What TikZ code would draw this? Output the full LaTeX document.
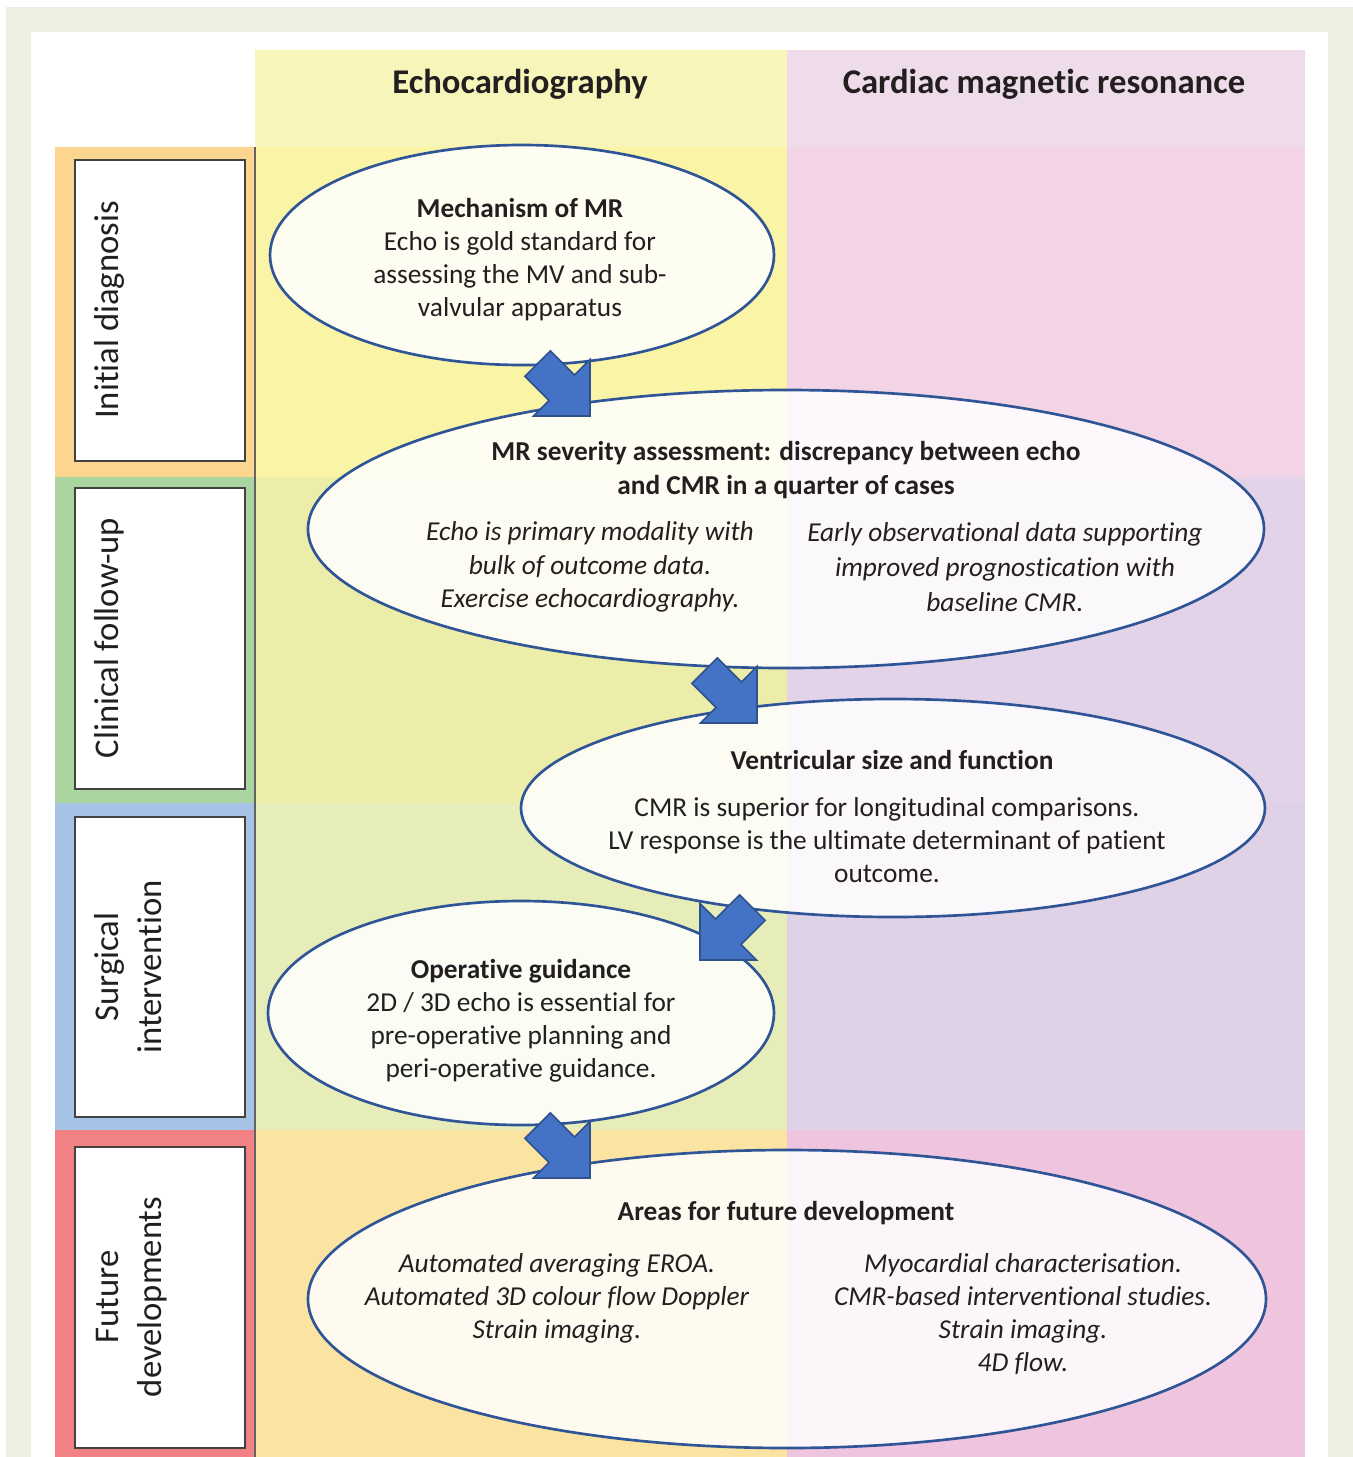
\documentclass[tikz,border=0pt]{standalone}
\usepackage{fontspec}
\setmainfont{Carlito}[Ligatures=NoCommon]
\usetikzlibrary{shapes.geometric}
\newdimen\px \px=0.75pt
\definecolor{beige}{HTML}{EEEEE3}
\definecolor{hdrecho}{HTML}{F8F5BB}
\definecolor{hdrcmr}{HTML}{EEDCEB}
\definecolor{echoA}{HTML}{FAF4A6}
\definecolor{echoB}{HTML}{EBEDA8}
\definecolor{echoC}{HTML}{E7EDB8}
\definecolor{echoD}{HTML}{FBE3A1}
\definecolor{cmrA}{HTML}{F2D4E6}
\definecolor{cmrB}{HTML}{E2D3E8}
\definecolor{cmrC}{HTML}{DFD2E6}
\definecolor{cmrD}{HTML}{EEC4DE}
\definecolor{panA}{HTML}{FCD68E}
\definecolor{panB}{HTML}{AAD4A0}
\definecolor{panC}{HTML}{A4C3E6}
\definecolor{panD}{HTML}{F28183}
\definecolor{ellblue}{HTML}{2F5597}
\definecolor{arrfill}{HTML}{4472C4}
\definecolor{arrdraw}{HTML}{2F528F}
\definecolor{ink}{HTML}{231F20}
\begin{document}
\begin{tikzpicture}[x=0.75pt,y=-0.75pt,
  ell/.style={ellipse, draw=ellblue, line width=2pt, fill=white, fill opacity=0.85, draw opacity=1, inner sep=0pt},
  body/.style={font=\fontsize{20.5}{24.75}\selectfont, text=ink, align=center, inner sep=0pt},
  bodyw/.style={font=\fontsize{20.5}{25.5}\selectfont, text=ink, align=center, inner sep=0pt},
  hdr/.style={font=\fontsize{26}{31}\selectfont\bfseries, text=ink, inner sep=0pt},
  lab/.style={font=\fontsize{26}{32}\selectfont, text=ink, align=center, inner sep=0pt, rotate=90, anchor=north},
  labbox/.style={draw=ink!85, line width=1.5pt, fill=white},
  barrow/.style={fill=arrfill, draw=arrdraw, line width=1.2pt, line join=miter},
  blockarrow/.pic={\path[barrow] (0,0) -- (-40,40) -- (-40,18) -- (-74,18) -- (-74,-18) -- (-40,-18) -- (-40,-40) -- cycle;}
]
\useasboundingbox (0,0) rectangle (1353,1457);
\fill[white] (0,0) rectangle (1353,1457);
\fill[beige] (6,7) rectangle (1353,1457);
\fill[white] (31,32) rectangle (1328,1457);
% column bands
\fill[hdrecho] (255,50) rectangle (787,147);
\fill[hdrcmr] (787,50) rectangle (1305,147);
\fill[echoA] (255,147) rectangle (787,477);
\fill[echoB] (255,477) rectangle (787,803);
\fill[echoC] (255,803) rectangle (787,1130);
\fill[echoD] (255,1130) rectangle (787,1457);
\fill[cmrA] (787,147) rectangle (1305,477);
\fill[cmrB] (787,477) rectangle (1305,803);
\fill[cmrC] (787,803) rectangle (1305,1130);
\fill[cmrD] (787,1130) rectangle (1305,1457);
% label panels
\fill[panA] (55,147) rectangle (255,477);
\fill[panB] (55,477) rectangle (255,803);
\fill[panC] (55,803) rectangle (255,1130);
\fill[panD] (55,1130) rectangle (255,1457);
\draw[ink!70, line width=1pt] (255,147) -- (255,1457);
\draw[labbox] (75,160) rectangle (245,461);
\draw[labbox] (75,488) rectangle (245,789);
\draw[labbox] (75,817) rectangle (245,1117);
\draw[labbox] (75,1147) rectangle (245,1448);
\node[lab] (l1) at (94,310) {\vphantom{l}Initial diagnosis};
\node[lab] (l2) at (94,638) {\vphantom{l}Clinical follow-up};
\node[lab] (l3) at (94,967) {\vphantom{l}Surgical\\intervention};
\node[lab] (l4) at (94,1297) {\vphantom{l}Future\\developments};
% headers
\node[hdr] (h1) at (520,84) {Echocardiography};
\node[hdr] (h2) at (1044,84) {Cardiac magnetic resonance};
% ellipses
\node[ell, minimum width=504\px, minimum height=220\px] (e1) at (522,255) {};
\node[ell, minimum width=956\px, minimum height=278\px] (e2) at (786,529) {};
\node[ell, minimum width=744\px, minimum height=218\px] (e3) at (893,808) {};
\node[ell, minimum width=506\px, minimum height=224\px] (e4) at (521,1013) {};
\node[ell, minimum width=958\px, minimum height=298\px] (e5) at (787,1299) {};
% texts
\node[body] (t1) at (520,260) {\textbf{Mechanism of MR}\\Echo is gold standard for\\assessing the MV and sub-\\valvular apparatus};
\node[bodyw] (t2) at (786,470) {\textbf{MR severity assessment: discrepancy between echo}\\\textbf{and CMR in a quarter of cases}};
\node[bodyw, font=\fontsize{20.5}{25}\selectfont\itshape] (t2a) at (590,567) {Echo is primary modality with\\bulk of outcome data.\\Exercise echocardiography.};
\node[bodyw, font=\fontsize{20.5}{26.25}\selectfont\itshape] (t2b) at (1005,567) {Early observational data supporting\\improved prognostication with\\baseline CMR.};
\node[body] (t3) at (892,760) {\textbf{Ventricular size and function}};
\node[body] (t3a) at (887,840) {CMR is superior for longitudinal comparisons.\\LV response is the ultimate determinant of patient\\outcome.};
\node[body] (t4) at (521,1021) {\textbf{Operative guidance}\\2D / 3D echo is essential for\\pre-operative planning and\\peri-operative guidance.};
\node[body] (t5) at (786,1213) {\textbf{Areas for future development}};
\node[body, font=\fontsize{20.5}{24.75}\selectfont\itshape] (t5a) at (557,1298) {Automated averaging EROA.\\Automated 3D colour flow Doppler\\Strain imaging.};
\node[body, font=\fontsize{20.5}{24.75}\selectfont\itshape] (t5b) at (1023,1314) {Myocardial characterisation.\\CMR-based interventional studies.\\Strain imaging.\\4D flow.};
% block arrows
\coordinate (a1) at (590,416);
\coordinate (a2) at (757,723);
\coordinate (a3) at (700,960);
\coordinate (a4) at (590,1178);
\pic[rotate=-45] at (a1) {blockarrow};
\pic[rotate=-45] at (a2) {blockarrow};
\pic[rotate=-135] at (a3) {blockarrow};
\pic[rotate=-45] at (a4) {blockarrow};
\end{tikzpicture}
\end{document}
